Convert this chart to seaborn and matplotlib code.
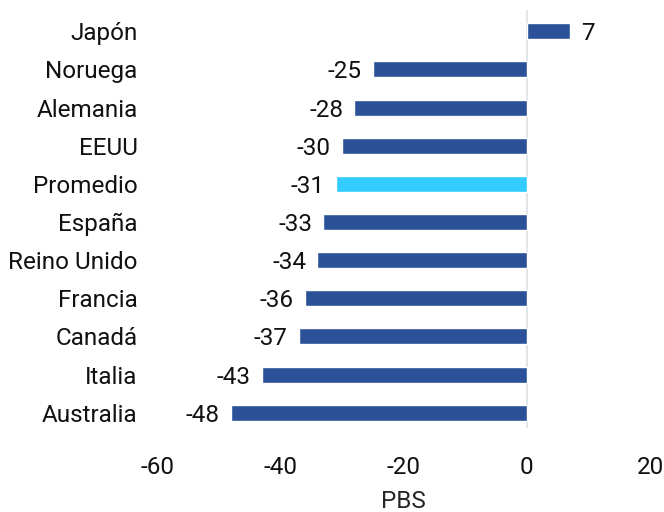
import matplotlib
matplotlib.use('Agg')
import matplotlib.pyplot as plt
import seaborn as sns
import pandas as pd

paises = ['Japón', 'Noruega', 'Alemania', 'EEUU', 'Promedio', 'España',
          'Reino Unido', 'Francia', 'Canadá', 'Italia', 'Australia']
valores = [7, -25, -28, -30, -31, -33, -34, -36, -37, -43, -48]
xticks = [-60, -40, -20, 0, 20]

AZUL = '#2B5198'
CELESTE = '#33CCFF'
FS = 17.5

sns.set_style('white')
plt.rcParams['font.family'] = ['Roboto', 'DejaVu Sans']

df = pd.DataFrame({'pais': paises, 'valor': valores})
colores = {p: (CELESTE if p == 'Promedio' else AZUL) for p in paises}

fig = plt.figure(figsize=(6.64, 5.12), dpi=100)
ax = fig.add_axes([0.2365, 0.164, 0.7425, 0.816])

ax.axvline(0, color='#DDE1E6', lw=1.2, zorder=0)
sns.barplot(data=df, x='valor', y='pais', hue='pais', palette=colores,
            order=paises, width=0.42, saturation=1, legend=False, ax=ax, zorder=2)

for cont in ax.containers:
    etiquetas = ax.bar_label(cont, fmt='%d', padding=8, fontsize=FS, color='#111111')
    for t in etiquetas:
        t.set_va('center_baseline')

ax.set_xlim(-60, 20)
ax.set_xticks(xticks)
ax.set_xticklabels([str(t) for t in xticks])
ax.set_ylim(10.4, -0.55)
ax.set_xlabel('PBS', fontsize=FS, labelpad=8)
ax.set_ylabel('')
ax.tick_params(axis='both', length=0, labelsize=FS, colors='#111111')
ax.tick_params(axis='y', pad=14)
ax.tick_params(axis='x', pad=20)
sns.despine(left=True, bottom=True)

fig.savefig('out.png', dpi=100)
